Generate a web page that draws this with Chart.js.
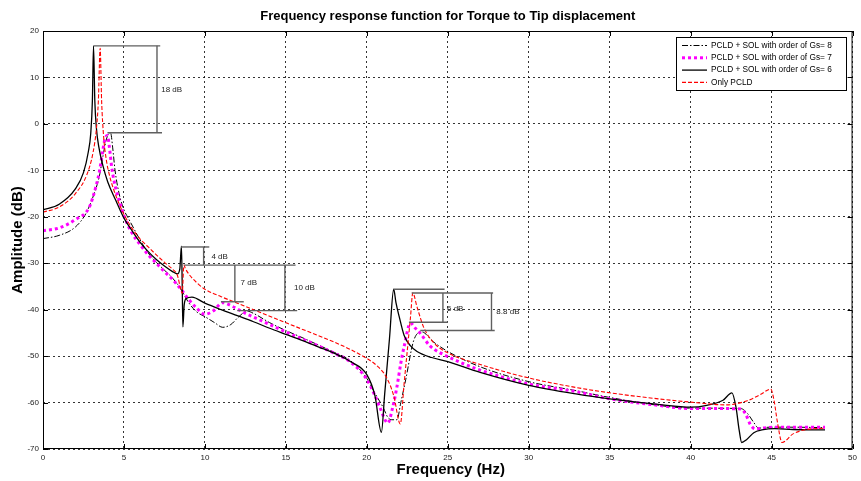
<!DOCTYPE html>
<html>
<head>
<meta charset="utf-8">
<script src="https://cdn.jsdelivr.net/npm/chart.js@4.4.0/dist/chart.umd.min.js"></script>
<style>
  html, body { margin: 0; padding: 0; background: #fff; }
  #wrap { width: 861px; height: 481px; }
</style>
</head>
<body>
<div id="wrap"><canvas id="frf" width="861" height="481"></canvas></div>
<script>
// Values: frequency (Hz) / amplitude (dB) for each curve
const freqGs8 = [0, 1, 2, 2.65, 3.16, 3.47, 3.7, 3.9, 4.05, 4.18, 4.3, 4.45, 4.7, 5, 5.3, 6, 6.5, 7, 7.5, 8, 8.5, 9, 9.5, 10, 10.6, 11.1, 11.6, 12.1, 12.6, 13, 14, 15, 16, 17, 18, 19, 20, 20.5, 21, 21.3, 21.55, 21.86, 22.1, 22.4, 22.9, 23.4, 24.1, 25, 27, 30, 33, 35, 38, 40, 43.1, 43.5, 43.9, 44.2, 44.9, 46, 48.3];
const ampGs8 = [-24.7, -24, -22.2, -19.3, -15, -11.4, -7, -3.5, -2.2, -2, -5, -10, -15, -18.5, -20.5, -25, -27.8, -29.8, -31.5, -33.2, -35.5, -38.5, -40.5, -41.5, -42.8, -43.8, -43.2, -41.5, -40.3, -40.8, -42.8, -44.5, -46, -47.6, -49.2, -51, -54.8, -58, -61, -63.2, -63.7, -63.7, -60, -55.1, -46.6, -44.8, -46.9, -49, -52.3, -55.5, -57.5, -58.9, -60.6, -61.2, -61.3, -62.3, -64.3, -65.5, -65.3, -65.3, -65.4];

const freqGs7 = [0, 1, 2, 2.85, 3.26, 3.5, 3.7, 3.85, 3.98, 4.1, 4.25, 4.5, 4.75, 5, 5.5, 6, 6.5, 7, 7.5, 8, 8.5, 9, 9.5, 10, 10.5, 11.1, 11.7, 12.5, 13, 14, 15, 16, 17, 18, 19, 20, 20.5, 20.8, 21.3, 21.6, 21.86, 22.1, 22.3, 22.7, 23, 23.3, 23.9, 25, 27, 30, 33, 35, 38, 40, 42, 43.1, 43.4, 43.7, 44, 44.7, 46, 48.3];
const ampGs7 = [-23, -22.4, -20.6, -18, -13.6, -10, -5.5, -3, -2.5, -5, -9.5, -14, -17, -19.8, -23.5, -26, -28.2, -30, -31.8, -33.5, -35.5, -37.8, -39.7, -41, -40.3, -38.5, -39.3, -40.8, -41.6, -43.2, -44.8, -46.3, -47.8, -49.4, -51.3, -55, -58.5, -61, -64.4, -61, -56.6, -51.5, -48, -42.9, -44, -45.1, -47.8, -50.1, -53, -56, -57.7, -59.2, -60.6, -61.3, -61.3, -61.4, -62.5, -64.8, -65.7, -65.4, -65.3, -65.3];

const freqGs6 = [0, 1, 2, 2.5, 2.8, 2.95, 3.05, 3.12, 3.2, 3.3, 3.45, 3.7, 4, 4.5, 5, 5.5, 6, 6.5, 7, 7.5, 8, 8.3, 8.45, 8.55, 8.6, 8.64, 8.72, 8.85, 9.2, 10, 11, 12, 13, 14, 15, 16, 17, 18, 19, 20, 20.5, 20.9, 21.1, 21.4, 21.66, 21.8, 22, 22.3, 22.7, 23.1, 24, 25, 27, 30, 33, 35, 38, 40, 41, 42, 42.55, 42.8, 43, 43.15, 43.45, 43.9, 44.4, 45.2, 46.3, 48.3];
const ampGs6 = [-18.5, -17.3, -14, -10.5, -6, -2, 5, 16.8, 5, -1, -5, -9, -12.5, -16.5, -20.3, -23, -25.5, -27.5, -29.2, -30.6, -31.8, -32.3, -31.2, -26.3, -35, -43.7, -39, -37.6, -37.3, -38.6, -40, -41.3, -42.6, -44, -45.3, -46.6, -48, -49.4, -51.2, -54, -58.5, -66.4, -58.3, -46.2, -35.6, -38.5, -41.5, -45.5, -47.8, -49, -50.3, -51.2, -53.5, -56.3, -58.2, -59.2, -60.4, -61, -60.6, -59.5, -57.9, -61, -66, -68.6, -68, -66.5, -65.9, -65.6, -65.8, -65.9];

const freqPcld = [0, 1, 2, 2.7, 3.1, 3.3, 3.42, 3.53, 3.62, 3.75, 3.9, 4.1, 4.4, 4.7, 5, 5.5, 6, 6.5, 7, 7.5, 8, 8.3, 8.5, 8.6, 8.7, 8.8, 9, 9.5, 10, 11, 12, 13, 14, 15, 16, 17, 18, 19, 20, 20.6, 21.2, 21.66, 22.07, 22.3, 22.5, 22.7, 22.84, 23.1, 23.5, 24.1, 25, 27, 30, 33, 35, 38, 40, 42.2, 43.5, 44.3, 44.95, 45.15, 45.35, 45.65, 46.3, 47, 48.3];
const ampPcld = [-19, -17.9, -15, -11, -6, -1, 5, 16.3, 5, -3, -7.5, -11, -14.5, -17.2, -19.5, -22.5, -24.8, -26.5, -28.2, -29.8, -31.3, -32.6, -35.5, -36.5, -30.4, -31.2, -32.3, -34.2, -35.6, -37.2, -38.6, -40, -41.4, -42.8, -44.2, -45.6, -47, -48.6, -50.5, -52, -54.5, -58.5, -64.6, -56, -48.8, -41.5, -36.4, -39.4, -43.7, -47, -49.3, -51.8, -54.7, -56.8, -57.9, -59.2, -59.9, -60.5, -59.6, -58.3, -57.1, -59.5, -64, -68.6, -66.8, -65.9, -65.5];

const seriesLabels = ['PCLD + SOL with order of Gs= 8', 'PCLD + SOL with order of Gs= 7', 'PCLD + SOL with order of Gs= 6', 'Only PCLD'];
const xTicks = [0, 5, 10, 15, 20, 25, 30, 35, 40, 45, 50];
const yTicks = [20, 10, 0, -10, -20, -30, -40, -50, -60, -70];

// gray dimension marks: [f1, dB1, f2, dB2]
const dimLines = [
    [3.12, 16.8, 7.24, 16.8], [7.04, 16.8, 7.04, -1.9], [3.98, -1.9, 7.35, -1.9],
    [8.52, -26.5, 10.27, -26.5], [9.92, -26.5, 9.92, -30.4], [8.72, -30.4, 15.6, -30.4],
    [11.85, -30.4, 11.85, -38.3], [10.99, -38.3, 12.4, -38.3],
    [14.94, -30.4, 14.94, -40.2], [12.0, -40.2, 15.7, -40.2],
    [21.66, -35.6, 24.8, -35.6], [22.77, -36.4, 27.8, -36.4], [24.7, -36.4, 24.7, -42.7],
    [22.6, -42.7, 25.0, -42.7], [27.7, -36.4, 27.7, -44.5], [23.3, -44.5, 27.9, -44.5]
];
const dimLabels = [['18 dB', 7.3, 7.3], ['4 dB', 10.4, -28.6], ['7 dB', 12.2, -34.3], ['10 dB', 15.5, -35.3], ['6 dB', 24.95, -39.8], ['8.8 dB', 28.0, -40.5]];

const FONT = '"Liberation Sans", Arial, sans-serif';
const toPts = (fs, as) => fs.map((f, i) => ({ x: f, y: as[i] }));

const matlabLook = {
    id: 'matlabLook',
    afterDatasetsDraw(chart) {
        const { ctx, chartArea: a, scales: { x, y } } = chart;
        ctx.save();
        // dimension marks
        ctx.strokeStyle = '#5f5f5f';
        ctx.lineWidth = 1.4;
        dimLines.forEach(([f1, d1, f2, d2]) => {
            ctx.beginPath();
            ctx.moveTo(x.getPixelForValue(f1), y.getPixelForValue(d1));
            ctx.lineTo(x.getPixelForValue(f2), y.getPixelForValue(d2));
            ctx.stroke();
        });
        ctx.fillStyle = '#222';
        ctx.font = '8px ' + FONT;
        ctx.textBaseline = 'middle';
        ctx.textAlign = 'left';
        dimLabels.forEach(([t, f, d]) => ctx.fillText(t, x.getPixelForValue(f), y.getPixelForValue(d)));

        // box and inward ticks
        ctx.strokeStyle = '#000';
        ctx.lineWidth = 1;
        ctx.strokeRect(a.left + 0.5, a.top + 0.5, a.right - a.left - 1, a.bottom - a.top - 1);
        ctx.beginPath();
        xTicks.forEach(v => {
            const px = Math.round(x.getPixelForValue(v)) + 0.5;
            ctx.moveTo(px, a.bottom); ctx.lineTo(px, a.bottom - 5);
            ctx.moveTo(px, a.top); ctx.lineTo(px, a.top + 5);
        });
        yTicks.forEach(v => {
            const py = Math.round(y.getPixelForValue(v)) + 0.5;
            ctx.moveTo(a.left, py); ctx.lineTo(a.left + 5, py);
            ctx.moveTo(a.right, py); ctx.lineTo(a.right - 5, py);
        });
        ctx.stroke();

        // legend box
        const lx = 676, ly = 37, lw = 170, lh = 53;
        ctx.fillStyle = '#fff';
        ctx.fillRect(lx, ly, lw, lh);
        ctx.strokeRect(lx + 0.5, ly + 0.5, lw, lh);
        chart.data.datasets.forEach((ds, i) => {
            const ry = ly + 8.5 + i * 12.3;
            ctx.save();
            ctx.strokeStyle = ds.borderColor;
            ctx.lineWidth = ds.borderWidth;
            ctx.setLineDash(ds.borderDash || []);
            ctx.beginPath();
            ctx.moveTo(lx + 6, ry); ctx.lineTo(lx + 31, ry);
            ctx.stroke();
            ctx.restore();
            ctx.fillStyle = '#000';
            ctx.font = '8.3px ' + FONT;
            ctx.fillText(ds.label, lx + 35, ry);
        });
        ctx.restore();
    },
    afterDraw(chart) {
        const { ctx, chartArea: a } = chart;
        ctx.save();
        ctx.fillStyle = '#000';
        ctx.textAlign = 'center';
        ctx.textBaseline = 'middle';
        ctx.font = 'bold 13px ' + FONT;
        ctx.fillText('Frequency response function for Torque to Tip displacement', (a.left + a.right) / 2, 16);
        ctx.font = 'bold 15px ' + FONT;
        ctx.fillText('Frequency (Hz)', (a.left + a.right) / 2 + 3, 470);
        ctx.translate(18, (a.top + a.bottom) / 2);
        ctx.rotate(-Math.PI / 2);
        ctx.fillText('Amplitude (dB)', 0, 0);
        ctx.restore();
    }
};

new Chart(document.getElementById('frf'), {
    type: 'line',
    data: {
        datasets: [
            { label: seriesLabels[0], data: toPts(freqGs8, ampGs8), borderColor: '#000', borderWidth: 1, borderDash: [6, 2, 1.5, 2], order: 3 },
            { label: seriesLabels[1], data: toPts(freqGs7, ampGs7), borderColor: '#ff00ff', borderWidth: 3, borderDash: [3, 3], order: 2 },
            { label: seriesLabels[2], data: toPts(freqGs6, ampGs6), borderColor: '#000', borderWidth: 1.3, borderDash: [], order: 1 },
            { label: seriesLabels[3], data: toPts(freqPcld, ampPcld), borderColor: '#ff0000', borderWidth: 1.1, borderDash: [4, 2], order: 0 }
        ]
    },
    options: {
        responsive: false,
        animation: false,
        devicePixelRatio: 1,
        layout: { padding: { top: 31, right: 3, left: 0, bottom: 0 } },
        elements: {
            point: { radius: 0 },
            line: { cubicInterpolationMode: 'monotone', fill: false }
        },
        plugins: { legend: { display: false }, tooltip: { enabled: false }, title: { display: false } },
        scales: {
            x: {
                type: 'linear', min: 0, max: 50,
                afterBuildTicks: s => { s.ticks = xTicks.map(v => ({ value: v })); },
                afterFit: s => { s.height = 32; },
                ticks: { font: { size: 8, family: FONT }, color: '#222', padding: 4, maxRotation: 0 },
                grid: { color: '#000', lineWidth: 0.8, drawTicks: false },
                border: { display: false, dash: [2, 3] }
            },
            y: {
                type: 'linear', min: -70, max: 20,
                afterBuildTicks: s => { s.ticks = yTicks.map(v => ({ value: v })); },
                afterFit: s => { s.width = 43; },
                ticks: { font: { size: 8, family: FONT }, color: '#222', padding: 4 },
                grid: { color: '#000', lineWidth: 0.8, drawTicks: false },
                border: { display: false, dash: [2, 3] }
            }
        }
    },
    plugins: [matlabLook]
});
</script>
</body>
</html>
